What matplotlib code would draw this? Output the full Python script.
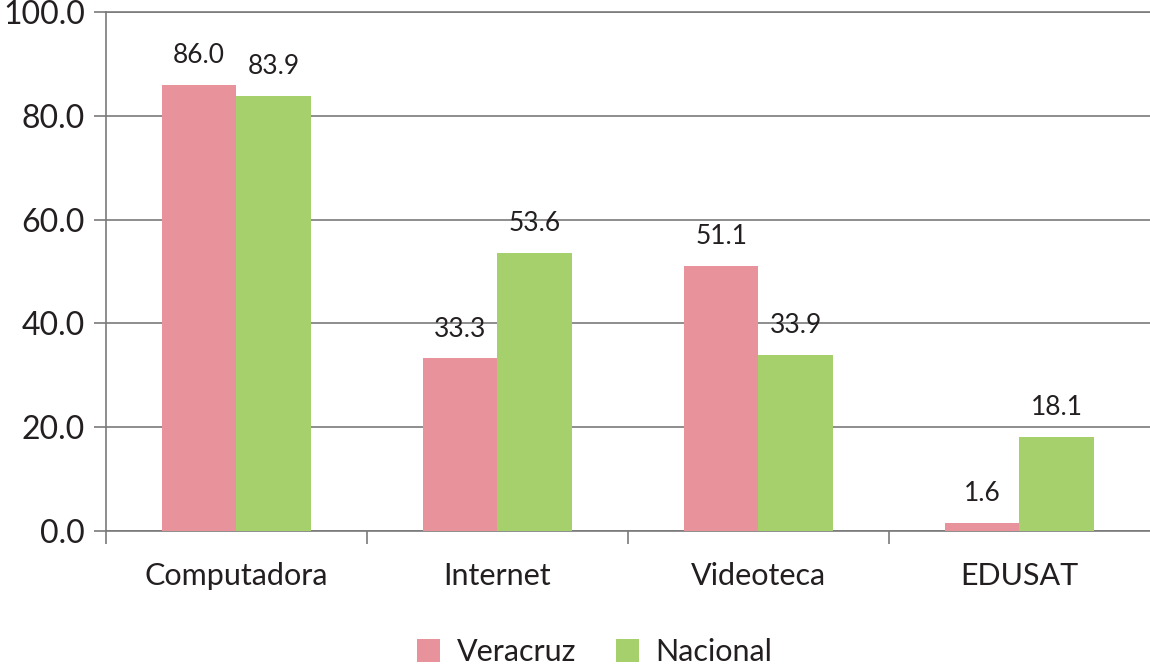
import numpy as np
import matplotlib.pyplot as plt

plt.rcParams['font.family'] = ['Lato', 'DejaVu Sans']

# data
categories = ['Computadora', 'Internet', 'Videoteca', 'EDUSAT']
veracruz = [86.0, 33.3, 51.1, 1.6]
nacional = [83.9, 53.6, 33.9, 18.1]

c_ver = '#E8939C'
c_nac = '#A6D06C'
txt = '#231F20'
grid_c = '#7a7a7a'

fig = plt.figure(figsize=(11.5, 6.71), dpi=100)
ax = fig.add_axes([0.092, 0.2086, 0.908, 0.7734])

x = np.arange(len(categories))
w = 0.285
b1 = ax.bar(x - w / 2, veracruz, w, color=c_ver, label='Veracruz', zorder=3)
b2 = ax.bar(x + w / 2, nacional, w, color=c_nac, label='Nacional', zorder=3)

for bars, vals in ((b1, veracruz), (b2, nacional)):
    for rect, v in zip(bars, vals):
        ax.annotate(f'{v:.1f}', (rect.get_x() + rect.get_width() / 2, v),
                    xytext=(0, 12), textcoords='offset points',
                    ha='center', va='bottom', fontsize=19, color=txt)

ax.set_xlim(-0.5, len(categories) - 0.5)
ax.set_ylim(0, 100)
ax.set_yticks(np.arange(0, 101, 20))
ax.set_yticklabels([f'{v:.1f}' for v in np.arange(0, 101, 20)])
ax.yaxis.grid(True, color=grid_c, linewidth=1.2, zorder=0)

# group separators as x ticks
ax.set_xticks(np.arange(-0.5, len(categories) - 0.5, 1))
ax.set_xticklabels([])
ax.set_xticks(x, minor=True)
ax.set_xticklabels(categories, minor=True)
ax.tick_params(axis='x', which='major', length=9, width=1.2, color=grid_c, direction='out')
ax.tick_params(axis='x', which='minor', length=0, pad=22, labelsize=22, labelcolor=txt)
ax.tick_params(axis='y', length=9, width=1.2, color=grid_c, labelsize=23,
               labelcolor=txt, pad=6)

ax.spines['right'].set_visible(False)
for s in ['left', 'bottom', 'top']:
    ax.spines[s].set_color(grid_c)
    ax.spines[s].set_linewidth(1.2)

fig.legend(handles=[b1, b2], labels=['Veracruz', 'Nacional'],
           loc='center', bbox_to_anchor=(0.517, 0.028), ncol=2,
           frameon=False, fontsize=22, handlelength=0.75, handleheight=0.75,
           handletextpad=0.55, columnspacing=1.3, labelcolor=txt)

fig.savefig('out.png', dpi=100)
